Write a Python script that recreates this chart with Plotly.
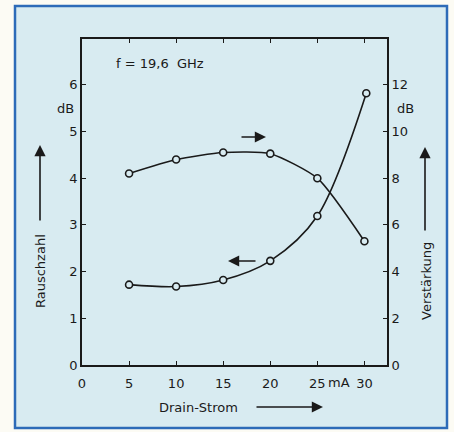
import plotly.graph_objects as go

# Data
drain_current = [5, 10, 15, 20, 25, 30.2]          # mA
noise_figure = [1.72, 1.68, 1.82, 2.23, 3.19, 5.82]  # dB (left axis)
gain_current = [5, 10, 15, 20, 25, 30]
gain = [8.2, 8.8, 9.1, 9.05, 8.0, 5.3]               # dB (right axis)

x_ticks = [0, 5, 10, 15, 20, 25, 30]
y_left_ticks = [0, 1, 2, 3, 4, 5, 6]
y_right_ticks = [0, 2, 4, 6, 8, 10, 12]

W, H = 454, 432
L, R, T, B = 82, 387, 39, 365
BG = "#d8ebf1"
OUT = "#fcfbf4"
INK = "#1a1a1a"
FONT = "DejaVu Sans"


def px(x):
    return (x - L) / (R - L)


def py(y):
    return (B - y) / (B - T)


fig = go.Figure()
marker = dict(symbol="circle", size=7, color=BG, line=dict(color=INK, width=1.6))
fig.add_trace(go.Scatter(x=drain_current, y=noise_figure, mode="lines+markers",
                         line=dict(color=INK, width=1.6, shape="spline", smoothing=0.9),
                         marker=marker, yaxis="y", showlegend=False, hoverinfo="skip"))
fig.add_trace(go.Scatter(x=gain_current, y=gain, mode="lines+markers",
                         line=dict(color=INK, width=1.6, shape="spline", smoothing=0.6),
                         marker=marker, yaxis="y2", showlegend=False, hoverinfo="skip"))

tickfont = dict(family=FONT, size=13, color=INK)
fig.update_layout(
    width=W, height=H,
    margin=dict(l=L, r=W - R, t=T, b=H - B, pad=0),
    paper_bgcolor=OUT, plot_bgcolor="rgba(0,0,0,0)",
    font=dict(family=FONT, size=13, color=INK),
    xaxis=dict(range=[0, 32.4], tickvals=x_ticks, ticktext=[str(v) for v in x_ticks],
               ticks="inside", ticklen=4, tickcolor=INK, showgrid=False, zeroline=False,
               showline=True, linecolor=INK, linewidth=1.8, mirror="ticks",
               ticklabelstandoff=5, tickfont=tickfont),
    yaxis=dict(range=[0, 6.98], tickvals=y_left_ticks, ticks="inside", ticklen=4,
               tickcolor=INK, showgrid=False, zeroline=False, showline=True,
               linecolor=INK, linewidth=1.8, tickfont=tickfont),
    yaxis2=dict(range=[0, 13.96], tickvals=y_right_ticks, ticks="inside", ticklen=4,
                tickcolor=INK, showgrid=False, zeroline=False, showline=True,
                linecolor=INK, linewidth=1.8, overlaying="y", side="right",
                tickfont=tickfont),
)

# outer light-blue panel with blue frame
fig.add_shape(type="rect", xref="paper", yref="paper",
              x0=px(15), x1=px(447), y0=py(428), y1=py(6),
              fillcolor=BG, line=dict(color="#2d6bb8", width=2.5), layer="below")

texts = [
    ("f = 19,6  GHz", 160, 63, 0),
    ("dB", 65, 108, 0),
    ("dB", 405, 108, 0),
    ("mA", 339, 382, 0),
    ("Drain-Strom", 198, 407, 0),
    ("Rauschzahl", 40, 271, -90),
    ("Verstärkung", 426, 281, -90),
]
for t, x, y, ang in texts:
    fig.add_annotation(text=t, xref="paper", yref="paper", x=px(x), y=py(y),
                       showarrow=False, textangle=ang,
                       font=dict(family=FONT, size=13, color=INK),
                       xanchor="center", yanchor="middle")

arrows = [
    ((40, 145), (40, 222)),
    ((425, 147), (425, 232)),
    ((323, 407), (255, 407)),
    ((266, 137), (240, 137)),
    ((228, 261), (257, 261)),
]
for (tx, ty), (sx, sy) in arrows:
    fig.add_annotation(text="", xref="paper", yref="paper", x=px(tx), y=py(ty),
                       ax=sx - tx, ay=sy - ty, showarrow=True, arrowhead=2,
                       arrowsize=1.4, arrowwidth=1.6, arrowcolor=INK)

fig.write_html("out.html", config={"displayModeBar": False},
               post_script="document.body.style.margin='0';document.body.style.overflow='hidden';")
